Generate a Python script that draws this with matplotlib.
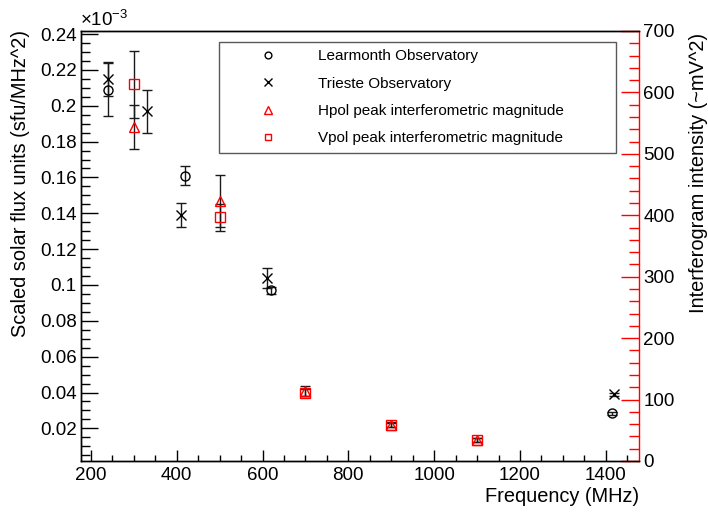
import matplotlib
matplotlib.use("Agg")
import matplotlib.pyplot as plt
from matplotlib.ticker import MultipleLocator, FuncFormatter

plt.rcParams['font.family'] = ['Liberation Sans', 'DejaVu Sans']
plt.rcParams['mathtext.fontset'] = 'custom'
plt.rcParams['mathtext.rm'] = 'Liberation Sans'

# Solar flux from the observatories (units of 1e-3 sfu/MHz^2)
learmonth_freq = [240, 420, 620, 1415]
learmonth_flux = [0.209, 0.161, 0.097, 0.0283]
learmonth_err = [0.015, 0.0053, 0.002, 0.0008]

trieste_freq = [240, 330, 410, 610, 1420]
trieste_flux = [0.215, 0.197, 0.139, 0.104, 0.0389]
trieste_err = [0.0095, 0.012, 0.0067, 0.0056, 0.001]

# Peak interferometric magnitudes (~mV^2)
pol_freq = [300, 500, 700, 900, 1100]
hpol_int = [544, 423, 114, 59, 34]
hpol_err = [36, 42, 8, 4, 3]
vpol_int = [613, 397, 111, 59, 34]
vpol_err = [54, 22, 6, 3, 3]

TICK_FS = 13.5
TITLE_FS = 14.4

fig = plt.figure(figsize=(7.08, 5.2), dpi=100)
ax = fig.add_axes([0.1144, 0.1135, 0.7886, 0.8269])
ax2 = ax.twinx()

ebar = dict(fmt='none', ecolor='0.1', elinewidth=1.0, capsize=3.5, capthick=1.0)
ms = 6.5

ax.errorbar(learmonth_freq, learmonth_flux, yerr=learmonth_err, **ebar)
ax.errorbar(trieste_freq, trieste_flux, yerr=trieste_err, **ebar)
h1, = ax.plot(learmonth_freq, learmonth_flux, 'o', ms=ms, mfc='none', mec='black', mew=1.0,
              label='Learmonth Observatory')
h2, = ax.plot(trieste_freq, trieste_flux, 'x', ms=ms + 0.5, color='black', mew=1.0,
              label='Trieste Observatory')

ax2.errorbar(pol_freq, hpol_int, yerr=hpol_err, **ebar)
ax2.errorbar(pol_freq, vpol_int, yerr=vpol_err, **ebar)
h3, = ax2.plot(pol_freq, hpol_int, '^', ms=ms + 0.5, mfc='none', mec='red', mew=1.0,
               label='Hpol peak interferometric magnitude')
h4, = ax2.plot(pol_freq, vpol_int, 's', ms=ms, mfc='none', mec='red', mew=1.0,
               label='Vpol peak interferometric magnitude')

# axis ranges
ax.set_xlim(177, 1478)
ax.set_ylim(0.0018, 0.2417)
ax2.set_ylim(0, 700)

ax.xaxis.set_major_locator(MultipleLocator(200))
ax.xaxis.set_minor_locator(MultipleLocator(50))
ax.yaxis.set_major_locator(MultipleLocator(0.02))
ax.yaxis.set_minor_locator(MultipleLocator(0.005))
ax.yaxis.set_major_formatter(FuncFormatter(lambda v, p: '%g' % round(v, 4)))
ax2.yaxis.set_major_locator(MultipleLocator(100))
ax2.yaxis.set_minor_locator(MultipleLocator(20))

ax.tick_params(axis='x', which='major', direction='in', length=8, width=1,
               labelsize=TICK_FS, pad=4)
ax.tick_params(axis='x', which='minor', direction='in', length=4.3, width=1)
ax.tick_params(axis='y', which='major', direction='in', length=12.2, width=1,
               labelsize=TICK_FS, pad=3, right=False)
ax.tick_params(axis='y', which='minor', direction='in', length=6.5, width=1, right=False)
ax2.tick_params(axis='y', which='major', direction='in', length=13, width=1, color='red',
                labelsize=TICK_FS, pad=3)
ax2.tick_params(axis='y', which='minor', direction='in', length=7, width=1, color='red')

for a in (ax, ax2):
    for s in a.spines.values():
        s.set_linewidth(1.0)
ax2.spines['right'].set_color('red')
ax.spines['right'].set_visible(False)

fig.text(80 / 708, 1 - 26 / 520, r'$\times$10$^{\mathregular{-3}}$', fontsize=TICK_FS,
         ha='left', va='baseline')

fig.text(21 / 708, 1 - 30 / 520, 'Scaled solar flux units (sfu/MHz^2)', rotation=90,
         fontsize=TITLE_FS, ha='center', va='top')
fig.text(698 / 708, 1 - 33 / 520, 'Interferogram intensity (~mV^2)', rotation=90,
         fontsize=TITLE_FS, ha='center', va='top')
fig.text(639 / 708, 1 - 497 / 520, 'Frequency (MHz)', fontsize=TITLE_FS,
         ha='right', va='center')

leg = ax2.legend(handles=[h1, h2, h3, h4], loc='upper left',
                 bbox_to_anchor=(0.2472, 0.975, 0.711, 0.0), mode='expand',
                 borderaxespad=0, borderpad=0.5, handlelength=5.41, handletextpad=0.57,
                 labelspacing=0.87, fontsize=11, markerscale=0.75, frameon=True,
                 fancybox=False, framealpha=1)
leg.get_frame().set_edgecolor('0.35')
leg.get_frame().set_linewidth(1.0)

fig.savefig('out.png', dpi=100)
